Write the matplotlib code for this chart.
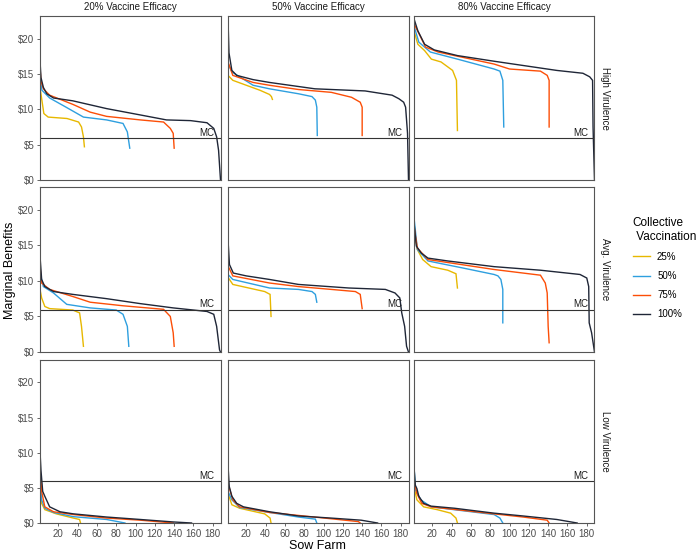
import matplotlib
matplotlib.use("Agg")
import matplotlib.pyplot as plt

plt.rcParams['font.family'] = ['Liberation Sans', 'DejaVu Sans']

# ==============================
# Data
# ==============================
efficacy = ["20% Vaccine Efficacy", "50% Vaccine Efficacy", "80% Vaccine Efficacy"]
virulence = ["High Virulence", "Avg. Virulence", "Low Virulence"]
coverage = ["25%", "50%", "75%", "100%"]
colors = ["#E7B800", "#2E9FDF", "#FC4E07", "#1F2637"]
mc = 5.95
y_ticks = [0, 5, 10, 15, 20]
x_ticks = [20, 40, 60, 80, 100, 120, 140, 160, 180]

# (farm rank, marginal benefit) points, one list per curve
hi20_25 = [(1, 13.1), (2.5, 11.7), (5, 9.4), (9.5, 8.9), (29, 8.7), (41, 8.2), (44, 7.5), (46, 6.1), (47, 4.7)]
hi20_50 = [(1, 14.5), (3, 12.7), (11, 11.6), (28, 10.3), (46, 8.9), (70, 8.5), (87, 8.0), (91.5, 6.8), (94, 4.5)]
hi20_75 = [(1, 16.0), (2, 14.0), (4.5, 12.9), (11, 12.0), (35, 10.7), (53, 9.6), (70, 9.0), (105, 8.5),
           (129, 8.2), (136, 7.3), (139, 6.6), (140, 4.5)]
hi20_100 = [(1, 16.9), (2, 14.5), (4.5, 13.1), (8, 12.2), (15, 11.6), (35, 11.2), (70, 10.1), (105, 9.2),
            (132, 8.5), (157, 8.4), (174, 8.1), (181, 7.3), (184, 6.1), (186, 4.2), (188, 0)]

hi50_25 = [(1, 14.8), (6, 14.1), (20, 13.4), (34, 12.7), (44, 12.1), (46, 11.8), (47, 11.4)]
hi50_50 = [(1, 16.5), (5, 15.3), (27, 13.4), (44, 12.9), (74, 12.2), (88, 11.8), (91.5, 11.3), (93, 10.3), (93.5, 6.3)]
hi50_75 = [(1, 16.7), (6, 14.8), (27, 13.8), (44, 13.4), (74, 12.8), (108, 12.4), (129, 11.7), (138, 11.0),
           (140, 10.3), (140, 6.3)]
hi50_100 = [(1, 22.8), (2, 18.0), (5, 15.5), (10, 14.8), (27, 14.2), (44, 13.8), (91, 12.9), (143, 12.6),
            (171, 12.0), (178, 11.5), (183, 11.0), (185, 10.3), (187, 6.6), (188, 0)]

hi80_25 = [(1, 21.1), (5, 19.2), (12, 18.3), (19, 17.1), (29, 16.7), (41, 15.5), (45, 14.1), (46, 7.0)]
hi80_50 = [(1, 21.8), (6, 19.5), (18, 18.1), (46, 17.1), (84, 15.7), (90, 15.4), (93, 14.1), (94, 7.5)]
hi80_75 = [(1, 22.1), (8, 20.2), (13, 18.8), (26, 18.1), (84, 16.4), (100, 15.7), (132, 15.4), (139, 14.8),
           (141, 14.1), (141, 7.5)]
hi80_100 = [(1, 22.8), (5, 21.1), (12, 19.2), (22, 18.4), (46, 17.6), (84, 16.8), (114, 16.2), (149, 15.5),
            (176, 15.1), (183, 14.6), (186, 14.1), (186.5, 7.5), (188, 0)]

av20_25 = [(1, 8.8), (2.7, 7.6), (6, 6.4), (11, 6.1), (35, 5.9), (42, 5.5), (44, 3.6), (46, 0.8)]
av20_50 = [(1, 11.1), (4.5, 9.2), (15, 8.3), (28.7, 6.7), (53, 6.2), (80, 5.9), (87, 5.3), (91.5, 3.6), (93, 0.8)]
av20_75 = [(1, 12.1), (2.7, 9.7), (11, 8.8), (35, 7.8), (53, 7.0), (87, 6.5), (129, 6.0), (136, 5.0),
           (139, 2.7), (140, 0.8)]
av20_100 = [(1, 13.5), (2.7, 10.2), (6, 9.2), (15, 8.5), (35, 8.1), (70, 7.5), (105, 6.8), (139, 6.2),
            (174, 5.7), (181, 5.3), (184, 3.6), (187, 0.3), (188, 0)]

av50_25 = [(1, 10.5), (6, 9.5), (39, 8.5), (44.6, 8.1), (45.6, 5.0)]
av50_50 = [(1, 10.9), (6, 10.2), (44, 9.0), (74, 8.8), (88, 8.5), (91.5, 8.1), (93, 7.0)]
av50_75 = [(1, 12.1), (6, 10.7), (44, 9.7), (74, 9.2), (108, 8.8), (133, 8.5), (138, 8.1), (140, 6.1)]
av50_100 = [(1, 15.8), (2.5, 12.3), (6.5, 11.1), (20, 10.7), (44, 10.2), (74, 9.5), (126, 9.0), (164, 8.8),
            (174, 8.3), (179, 7.6), (181, 5.5), (184, 3.6), (186, 0.8), (188, 0)]

av80_25 = [(1, 17.2), (4.5, 14.4), (10, 13.0), (18.7, 12.0), (36, 11.5), (44.5, 11.0), (46, 9.0)]
av80_50 = [(1, 18.9), (4.5, 14.4), (15.5, 12.8), (52, 11.8), (84, 10.9), (88, 10.7), (91, 10.2), (93, 8.8), (93, 4.1)]
av80_75 = [(1, 17.7), (4.5, 14.6), (15.5, 13.0), (84, 11.6), (114, 11.1), (132, 10.8), (137, 9.7), (139, 8.3),
           (140, 3.6), (141, 1.3)]
av80_100 = [(1, 18.2), (3.4, 14.9), (8.6, 13.9), (15.5, 13.2), (36, 12.8), (84, 12.0), (132, 11.5), (173, 10.9),
            (180, 10.4), (182, 9.2), (182.5, 4.1), (185, 2.7), (188, 0)]

lo20_25 = [(1, 4.7), (2.7, 2.8), (6, 1.9), (18, 1.3), (35.6, 0.7), (42, 0.5), (43, 0)]
lo20_50 = [(1, 6.1), (2.7, 3.3), (6, 2.1), (15, 1.5), (35.6, 0.9), (70, 0.5), (89, 0)]
lo20_75 = [(1, 8.0), (2.7, 4.5), (6, 2.3), (15, 1.6), (35.6, 1.2), (70, 0.7), (105, 0.4), (139, 0)]
lo20_100 = [(1, 10.2), (2, 7.5), (3.8, 4.5), (6, 3.8), (11, 2.3), (21.7, 1.6), (35.6, 1.3), (70, 0.85),
            (105, 0.5), (139, 0.15), (158, 0)]

lo50_25 = [(1, 4.2), (5, 2.6), (13, 2.1), (39, 1.3), (44.6, 0.7), (45.6, 0)]
lo50_50 = [(1, 4.5), (5, 3.3), (13, 2.2), (44, 1.5), (74, 0.85), (91.5, 0.55), (93, 0)]
lo50_75 = [(1, 5.6), (6, 3.3), (13, 2.3), (44, 1.5), (108, 0.6), (136, 0.2), (138, 0)]
lo50_100 = [(1, 8.2), (2.3, 5.2), (5, 3.8), (10, 2.8), (17, 2.3), (44, 1.6), (74, 1.0), (108, 0.7),
            (139, 0.4), (156, 0)]

lo80_25 = [(1, 5.2), (4, 3.3), (11, 2.3), (25, 1.9), (39, 1.4), (44.5, 0.7), (46, 0)]
lo80_50 = [(1, 8.0), (2.7, 4.7), (8, 3.3), (18.7, 2.3), (84, 1.2), (90, 0.7), (93, 0)]
lo80_75 = [(1, 6.1), (4, 4.2), (9, 2.8), (18.7, 2.3), (84, 1.3), (114, 0.85), (139, 0.4), (141, 0)]
lo80_100 = [(1, 8.0), (2.3, 5.4), (4, 4.9), (6, 3.8), (11, 2.8), (18.7, 2.4), (43, 2.1), (84, 1.4),
            (114, 1.0), (149, 0.5), (170, 0)]

panels = [
    [[hi20_25, hi20_50, hi20_75, hi20_100], [hi50_25, hi50_50, hi50_75, hi50_100], [hi80_25, hi80_50, hi80_75, hi80_100]],
    [[av20_25, av20_50, av20_75, av20_100], [av50_25, av50_50, av50_75, av50_100], [av80_25, av80_50, av80_75, av80_100]],
    [[lo20_25, lo20_50, lo20_75, lo20_100], [lo50_25, lo50_50, lo50_75, lo50_100], [lo80_25, lo80_50, lo80_75, lo80_100]],
]

# ==============================
# Layout (pixel boxes of the facets)
# ==============================
W, H = 700, 553
col_left = [40, 228, 414]
col_w = 180.5
row_box = [(16, 180), (187, 352), (360, 523)]

fig = plt.figure(figsize=(7, 5.53), dpi=100)
tick_col = "#4D4D4D"
handles = []

for r in range(3):
    for c in range(3):
        top, bot = row_box[r]
        ax = fig.add_axes([col_left[c] / W, 1 - bot / H, col_w / W, (bot - top) / H])
        for k, curve in enumerate(panels[r][c]):
            xs = [p[0] for p in curve]
            ys = [p[1] for p in curve]
            ln, = ax.plot(xs, ys, color=colors[k], lw=1.0, solid_joinstyle="miter")
            if r == 0 and c == 0:
                handles.append(ln)
        ax.axhline(mc, color="#333333", lw=0.8)
        ax.text(174, mc + 0.05, "MC", ha="center", va="bottom", fontsize=7, color="#1A1A1A")
        ax.set_xlim(1, 188)
        ax.set_ylim(0, 23.2)
        for s in ax.spines.values():
            s.set_color("#555555")
            s.set_linewidth(0.8)
        ax.tick_params(length=2.5, width=0.6, color=tick_col, labelcolor=tick_col, labelsize=7, pad=1.5)
        if c == 0:
            ax.set_yticks(y_ticks)
            ax.set_yticklabels([f"${v}" for v in y_ticks])
        else:
            ax.set_yticks([])
        if r == 2:
            ax.set_xticks(x_ticks)
        else:
            ax.set_xticks([])
        if r == 0:
            ax.set_title(efficacy[c], fontsize=7, color="#1A1A1A", pad=4)
        if c == 2:
            ax.text(1.06, 0.5, virulence[r], transform=ax.transAxes, rotation=-90,
                    ha="center", va="center", fontsize=7, color="#1A1A1A")

fig.text(317 / W, 1 - 546 / H, "Sow Farm", ha="center", va="center", fontsize=9)
fig.text(10 / W, 1 - 270 / H, "Marginal Benefits", ha="center", va="center", rotation=90, fontsize=9)

leg = fig.legend(handles, coverage, title="Collective\n Vaccination", loc="upper left",
                 bbox_to_anchor=(624 / W, 1 - 208 / H), frameon=False, fontsize=7, title_fontsize=8.5,
                 handlelength=1.8, handletextpad=0.7, labelspacing=0.95, alignment="left")

fig.savefig("out.png", dpi=100)
